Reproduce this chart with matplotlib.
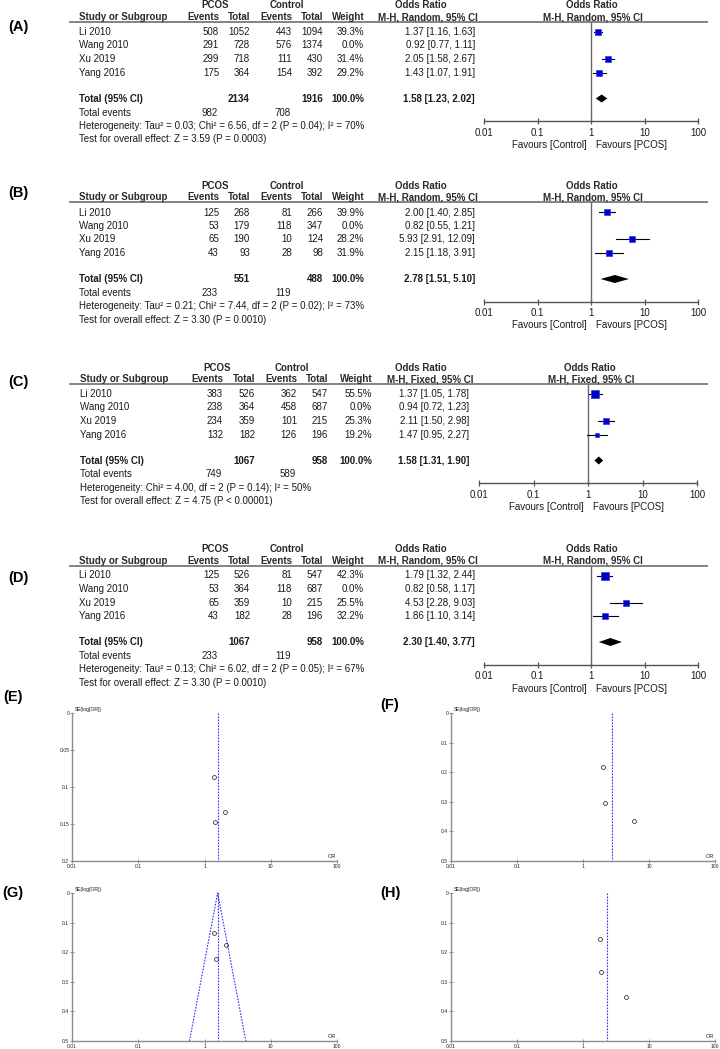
import numpy as np
import matplotlib
matplotlib.use("Agg")
import matplotlib.pyplot as plt

plt.rcParams['font.family'] = ['Liberation Sans', 'DejaVu Sans']

# ---------------- data ----------------
studies = ['Li 2010', 'Wang 2010', 'Xu 2019', 'Yang 2016']

# (A) random effects
a_pcos_events = [508, 291, 299, 175]
a_pcos_total = [1052, 728, 718, 364]
a_ctrl_events = [443, 576, 111, 154]
a_ctrl_total = [1094, 1374, 430, 392]
a_weight = [39.3, 0.0, 31.4, 29.2]
a_or = [1.37, 0.92, 2.05, 1.43]
a_lo = [1.16, 0.77, 1.58, 1.07]
a_hi = [1.63, 1.11, 2.67, 1.91]
a_total = [2134, 1916]
a_total_events = [982, 708]
a_pooled = [1.58, 1.23, 2.02]
a_het = 'Heterogeneity: Tau\u00b2 = 0.03; Chi\u00b2 = 6.56, df = 2 (P = 0.04); I\u00b2 = 70%'
a_test = 'Test for overall effect: Z = 3.59 (P = 0.0003)'

# (B) random effects
b_pcos_events = [125, 53, 65, 43]
b_pcos_total = [268, 179, 190, 93]
b_ctrl_events = [81, 118, 10, 28]
b_ctrl_total = [266, 347, 124, 98]
b_weight = [39.9, 0.0, 28.2, 31.9]
b_or = [2.00, 0.82, 5.93, 2.15]
b_lo = [1.40, 0.55, 2.91, 1.18]
b_hi = [2.85, 1.21, 12.09, 3.91]
b_total = [551, 488]
b_total_events = [233, 119]
b_pooled = [2.78, 1.51, 5.10]
b_het = 'Heterogeneity: Tau\u00b2 = 0.21; Chi\u00b2 = 7.44, df = 2 (P = 0.02); I\u00b2 = 73%'
b_test = 'Test for overall effect: Z = 3.30 (P = 0.0010)'

# (C) fixed effect
c_pcos_events = [383, 238, 234, 132]
c_pcos_total = [526, 364, 359, 182]
c_ctrl_events = [362, 458, 101, 126]
c_ctrl_total = [547, 687, 215, 196]
c_weight = [55.5, 0.0, 25.3, 19.2]
c_or = [1.37, 0.94, 2.11, 1.47]
c_lo = [1.05, 0.72, 1.50, 0.95]
c_hi = [1.78, 1.23, 2.98, 2.27]
c_total = [1067, 958]
c_total_events = [749, 589]
c_pooled = [1.58, 1.31, 1.90]
c_het = 'Heterogeneity: Chi\u00b2 = 4.00, df = 2 (P = 0.14); I\u00b2 = 50%'
c_test = 'Test for overall effect: Z = 4.75 (P < 0.00001)'

# (D) random effects
d_pcos_events = [125, 53, 65, 43]
d_pcos_total = [526, 364, 359, 182]
d_ctrl_events = [81, 118, 10, 28]
d_ctrl_total = [547, 687, 215, 196]
d_weight = [42.3, 0.0, 25.5, 32.2]
d_or = [1.79, 0.82, 4.53, 1.86]
d_lo = [1.32, 0.58, 2.28, 1.10]
d_hi = [2.44, 1.17, 9.03, 3.14]
d_total = [1067, 958]
d_total_events = [233, 119]
d_pooled = [2.30, 1.40, 3.77]
d_het = 'Heterogeneity: Tau\u00b2 = 0.13; Chi\u00b2 = 6.02, df = 2 (P = 0.05); I\u00b2 = 67%'
d_test = 'Test for overall effect: Z = 3.30 (P = 0.0010)'

or_ticks = [0.01, 0.1, 1, 10, 100]
or_tick_labels = ['0.01', '0.1', '1', '10', '100']

# ---------------- figure ----------------
W, H = 720, 1049
fig = plt.figure(figsize=(W / 100, H / 100), dpi=100)


def fx(x):
    return x / W


def fy(y):
    return 1 - y / H


def txt(x, y, s, **kw):
    kw.setdefault('fontsize', 7)
    kw.setdefault('va', 'center')
    kw.setdefault('color', '#1a1a1a')
    fig.text(fx(x), fy(y), s, **kw)


RANDOM = dict(study=79, pe=219, pt=250, ce=292, ct=323, w=364, ortxt=475,
              pcos_c=215, ctrl_c=287, orhdr_c=421, method_c=428,
              axL=484, axR=698, rhdr_c=592, line_x0=70, line_x1=707)
FIXED = dict(study=80, pe=223, pt=255, ce=297, ct=328, w=372, ortxt=469,
             pcos_c=217, ctrl_c=292, orhdr_c=421, method_c=430,
             axL=479, axR=697, rhdr_c=590, line_x0=70, line_x1=707)

rows_y = [32, 45.5, 59, 72.5]
total_y, events_y, het_y, test_y = 98.5, 112.5, 126, 139.5
hdr1_y, hdr2_y, line_y, axis_y = 5.5, 17, 22, 121


def forest(off, lay, label, label_y, method, pe, pt, ce, ct, wt, orv, lo, hi,
           tot, tot_ev, pooled, het, test):
    L = lay
    txt(18, label_y, label, fontsize=10.5, fontweight='bold', ha='center', color='black')
    b = dict(fontweight='bold', color='#2a2a2a')
    txt(L['pcos_c'], off + hdr1_y, 'PCOS', ha='center', **b)
    txt(L['ctrl_c'], off + hdr1_y, 'Control', ha='center', **b)
    txt(L['orhdr_c'], off + hdr1_y, 'Odds Ratio', ha='center', **b)
    txt(L['rhdr_c'], off + hdr1_y, 'Odds Ratio', ha='center', **b)
    txt(L['study'], off + hdr2_y, 'Study or Subgroup', ha='left', **b)
    txt(L['pe'], off + hdr2_y, 'Events', ha='right', **b)
    txt(L['pt'], off + hdr2_y, 'Total', ha='right', **b)
    txt(L['ce'], off + hdr2_y, 'Events', ha='right', **b)
    txt(L['ct'], off + hdr2_y, 'Total', ha='right', **b)
    txt(L['w'] + 1, off + hdr2_y, 'Weight', ha='right', **b)
    txt(L['method_c'], off + hdr2_y, method, ha='center', **b)
    txt(L['rhdr_c'] + 1, off + hdr2_y, method, ha='center', **b)
    fig.add_artist(plt.Line2D([fx(L['line_x0']), fx(L['line_x1'])],
                              [fy(off + line_y), fy(off + line_y)],
                              color='#7a7a7a', lw=1.3))
    for i, s in enumerate(studies):
        y = off + rows_y[i]
        txt(L['study'], y, s, ha='left')
        txt(L['pe'], y, str(pe[i]), ha='right')
        txt(L['pt'], y, str(pt[i]), ha='right')
        txt(L['ce'], y, str(ce[i]), ha='right')
        txt(L['ct'], y, str(ct[i]), ha='right')
        txt(L['w'], y, f'{wt[i]:.1f}%', ha='right')
        txt(L['ortxt'], y, f'{orv[i]:.2f} [{lo[i]:.2f}, {hi[i]:.2f}]', ha='right')
    y = off + total_y
    txt(L['study'], y, 'Total (95% CI)', ha='left', fontweight='bold')
    txt(L['pt'], y, str(tot[0]), ha='right', fontweight='bold')
    txt(L['ct'], y, str(tot[1]), ha='right', fontweight='bold')
    txt(L['w'], y, '100.0%', ha='right', fontweight='bold')
    txt(L['ortxt'], y, f'{pooled[0]:.2f} [{pooled[1]:.2f}, {pooled[2]:.2f}]',
        ha='right', fontweight='bold')
    y = off + events_y
    txt(L['study'], y, 'Total events', ha='left')
    txt(L['pe'] - 1, y, str(tot_ev[0]), ha='right')
    txt(L['ce'] - 1, y, str(tot_ev[1]), ha='right')
    txt(L['study'], off + het_y, het, ha='left')
    txt(L['study'], off + test_y, test, ha='left')

    # graphical part
    ax = fig.add_axes([fx(L['axL']), fy(off + axis_y), (L['axR'] - L['axL']) / W,
                       (axis_y - line_y) / H])
    ax.set_xscale('log')
    ax.set_xlim(0.01, 100)
    ax.set_ylim(axis_y, line_y)
    ax.patch.set_alpha(0)
    for sp in ['top', 'left', 'right']:
        ax.spines[sp].set_visible(False)
    ax.spines['bottom'].set_color('#555555')
    ax.spines['bottom'].set_linewidth(1.0)
    ax.set_xticks(or_ticks)
    ax.set_xticklabels(or_tick_labels)
    ax.xaxis.set_minor_locator(matplotlib.ticker.NullLocator())
    ax.set_yticks([])
    ax.tick_params(axis='x', direction='inout', length=5, width=0.9, color='#555555',
                   labelsize=7, pad=2.5, labelcolor='#1a1a1a')
    ax.axvline(1, color='#6a6a6a', lw=1.0)
    for i in range(len(studies)):
        if wt[i] <= 0:
            continue
        y = rows_y[i]
        ax.plot([lo[i], hi[i]], [y, y], color='black', lw=0.8)
        side = 1.1 * np.sqrt(wt[i])
        ax.plot([orv[i]], [y], marker='s', ms=side * 0.72, mfc='#0000c0',
                mec='#3535ff', mew=0.5, ls='none')
    est, plo, phi = pooled
    ax.fill([plo, est, phi, est], [total_y, total_y - 4, total_y, total_y + 4],
            color='black', lw=0)
    x1 = L['axL'] + (L['axR'] - L['axL']) / 2
    txt(x1 - 4, off + 145, 'Favours [Control]', ha='right')
    txt(x1 + 5, off + 145, 'Favours [PCOS]', ha='left')


forest(0, RANDOM, '(A)', 27, 'M-H, Random, 95% CI', a_pcos_events, a_pcos_total,
       a_ctrl_events, a_ctrl_total, a_weight, a_or, a_lo, a_hi, a_total,
       a_total_events, a_pooled, a_het, a_test)
forest(180.5, RANDOM, '(B)', 193, 'M-H, Random, 95% CI', b_pcos_events, b_pcos_total,
       b_ctrl_events, b_ctrl_total, b_weight, b_or, b_lo, b_hi, b_total,
       b_total_events, b_pooled, b_het, b_test)
forest(362, FIXED, '(C)', 382, 'M-H, Fixed, 95% CI', c_pcos_events, c_pcos_total,
       c_ctrl_events, c_ctrl_total, c_weight, c_or, c_lo, c_hi, c_total,
       c_total_events, c_pooled, c_het, c_test)
forest(543.5, RANDOM, '(D)', 578, 'M-H, Random, 95% CI', d_pcos_events, d_pcos_total,
       d_ctrl_events, d_ctrl_total, d_weight, d_or, d_lo, d_hi, d_total,
       d_total_events, d_pooled, d_het, d_test)


# ---------------- funnel plots ----------------
def funnel(Lp, Tp, Rp, Bp, ymax, yticks, ylabels, orv, lo, hi, wt, pooled,
           label, lab_x, lab_y, show_funnel):
    txt(lab_x, lab_y, label, fontsize=10.5, fontweight='bold', ha='center', color='black')
    ax = fig.add_axes([fx(Lp), fy(Bp), (Rp - Lp) / W, (Bp - Tp) / H])
    ax.set_xscale('log')
    ax.set_xlim(0.01, 100)
    ax.set_ylim(ymax, 0)
    ax.patch.set_alpha(0)
    for sp in ['top', 'right']:
        ax.spines[sp].set_visible(False)
    for sp in ['left', 'bottom']:
        ax.spines[sp].set_color('#8c8c8c')
        ax.spines[sp].set_linewidth(1.0)
    ax.set_xticks(or_ticks)
    ax.set_xticklabels(or_tick_labels)
    ax.xaxis.set_minor_locator(matplotlib.ticker.NullLocator())
    ax.set_yticks(yticks)
    ax.set_yticklabels(ylabels)
    ax.tick_params(direction='inout', length=2.5, width=0.5, color='#666666',
                   labelsize=3.6, pad=0.8, labelcolor='#222222')
    ors = [orv[i] for i in range(len(orv)) if wt[i] > 0]
    ses = [np.log(hi[i] / lo[i]) / (2 * 1.96) for i in range(len(orv)) if wt[i] > 0]
    est = pooled[0]
    ax.plot([est, est], [0, ymax], color='#3030ff', lw=0.8, ls=(0, (1.5, 1.2)),
            clip_on=False)
    if show_funnel:
        ax.plot([est * np.exp(-1.96 * ymax), est, est * np.exp(1.96 * ymax)],
                [ymax, 0, ymax], color='#3030ff', lw=0.8, ls=(0, (1.5, 1.2)),
                clip_on=False)
    ax.plot(ors, ses, 'o', mfc='none', mec='#111111', ms=2.8, mew=0.5, ls='none')
    txt(Lp + 3, Tp - 4, 'SE(log[OR])', ha='left', fontsize=3.6)
    txt(Rp - 5, Bp - 4, 'OR', ha='center', fontsize=4)


funnel(72, 713, 337, 861, 0.2, [0, 0.05, 0.1, 0.15, 0.2],
       ['0', '0.05', '0.1', '0.15', '0.2'], a_or, a_lo, a_hi, a_weight, a_pooled,
       '(E)', 13, 697, False)
funnel(451, 713, 715, 861, 0.5, [0, 0.1, 0.2, 0.3, 0.4, 0.5],
       ['0', '0.1', '0.2', '0.3', '0.4', '0.5'], b_or, b_lo, b_hi, b_weight, b_pooled,
       '(F)', 390, 705, False)
funnel(72, 893, 337, 1041, 0.5, [0, 0.1, 0.2, 0.3, 0.4, 0.5],
       ['0', '0.1', '0.2', '0.3', '0.4', '0.5'], c_or, c_lo, c_hi, c_weight, c_pooled,
       '(G)', 13, 893, True)
funnel(451, 893, 715, 1041, 0.5, [0, 0.1, 0.2, 0.3, 0.4, 0.5],
       ['0', '0.1', '0.2', '0.3', '0.4', '0.5'], d_or, d_lo, d_hi, d_weight, d_pooled,
       '(H)', 390, 893, False)

fig.savefig('out.png', dpi=100, facecolor='white')
